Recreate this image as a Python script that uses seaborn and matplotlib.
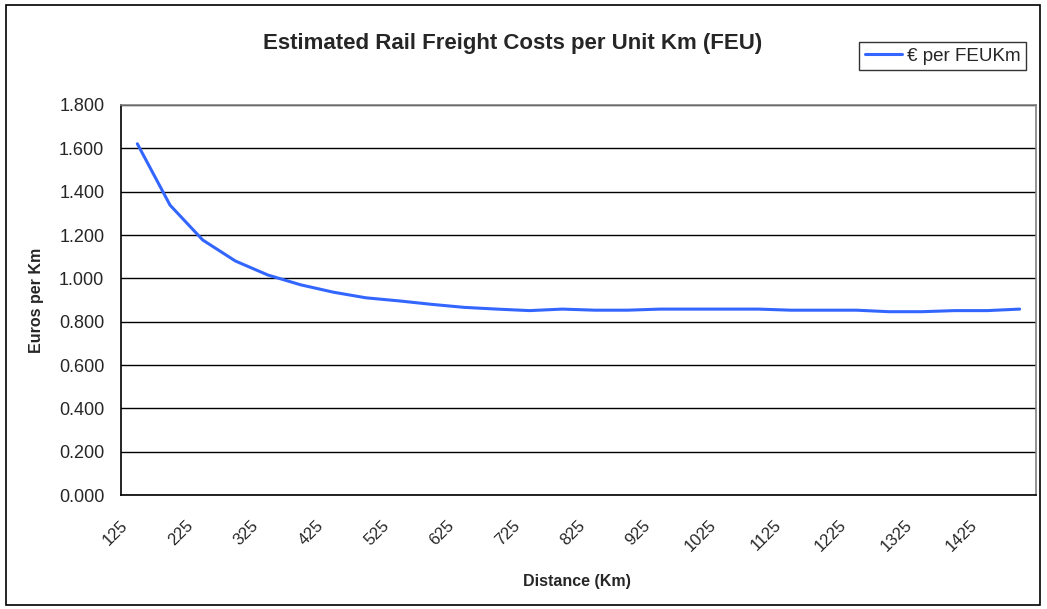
import matplotlib
matplotlib.use('Agg')
import matplotlib.pyplot as plt
import matplotlib.transforms as mtransforms
from matplotlib.patches import Rectangle
import seaborn as sns
import pandas as pd

# distance categories (km) and cost per FEU-km (euros)
distance = [125, 175, 225, 275, 325, 375, 425, 475, 525, 575,
            625, 675, 725, 775, 825, 875, 925, 975, 1025, 1075,
            1125, 1175, 1225, 1275, 1325, 1375, 1425, 1475]
cost = [1.621, 1.338, 1.177, 1.080, 1.015, 0.970, 0.936, 0.910, 0.896, 0.880,
        0.866, 0.858, 0.851, 0.858, 0.853, 0.853, 0.858, 0.858, 0.858, 0.858,
        0.853, 0.853, 0.853, 0.846, 0.846, 0.851, 0.851, 0.858]
label_ticks = [125, 225, 325, 425, 525, 625, 725, 825, 925, 1025, 1125, 1225, 1325, 1425]
y_ticks = [0.0, 0.2, 0.4, 0.6, 0.8, 1.0, 1.2, 1.4, 1.6, 1.8]
series_name = '€ per FEUKm'

df = pd.DataFrame({'Distance': distance, 'Cost': cost})

sns.set_style('white')
plt.rcParams['font.family'] = ['Liberation Sans', 'DejaVu Sans']

fig = plt.figure(figsize=(10.47, 6.09), dpi=100)
ax = fig.add_axes([121 / 1047, 1 - 495 / 609, (1036 - 121) / 1047, (495 - 105) / 609])

sns.lineplot(data=df, x='Distance', y='Cost', ax=ax, color='#3366FF',
             linewidth=2.2, label=series_name)

# category axis: boundaries every 50 km
ax.set_xlim(100, 1500)
ax.set_ylim(0, 1.8)
ax.set_xticks(list(range(100, 1501, 50)))
ax.set_xticklabels([])
ax.tick_params(axis='x', which='major', direction='out', length=5, width=1, color='black')
ax.set_xticks(label_ticks, minor=True)
ax.set_xticklabels([str(v) for v in label_ticks], minor=True, rotation=45,
                   ha='right', va='center', rotation_mode='anchor', fontsize=12)
ax.tick_params(axis='x', which='minor', length=0, pad=20)
offset = mtransforms.ScaledTranslation(-12 / 100, 0, fig.dpi_scale_trans)
for lbl in ax.xaxis.get_minorticklabels():
    lbl.set_transform(lbl.get_transform() + offset)

ax.set_yticks(y_ticks)
ax.set_yticklabels([f'{v:.3f}' for v in y_ticks], fontsize=13)
ax.tick_params(axis='y', direction='out', length=5, width=1, color='black', pad=7)
ax.yaxis.grid(True, color='black', linewidth=1)
ax.xaxis.grid(False)

for side in ['left', 'bottom']:
    ax.spines[side].set_color('black')
    ax.spines[side].set_linewidth(1.2)
for side in ['top', 'right']:
    ax.spines[side].set_visible(True)
    ax.spines[side].set_color('#808080')
    ax.spines[side].set_linewidth(1.2)

ax.set_xlabel('Distance (Km)', fontsize=11.5, fontweight='bold')
ax.set_ylabel('Euros per Km', fontsize=11.5, fontweight='bold')
ax.xaxis.set_label_coords((577 - 121) / (1036 - 121), -(574 - 495) / (495 - 105))
ax.yaxis.set_label_coords(-(121 - 44) / (1036 - 121), (495 - 300) / (495 - 105))

fig.text(513 / 1047, 1 - 43 / 609, 'Estimated Rail Freight Costs per Unit Km (FEU)',
         ha='center', va='center', fontsize=16, fontweight='bold')

leg = ax.legend(loc='upper left', bbox_to_anchor=(859 / 1047, 1 - 42 / 609),
                bbox_transform=fig.transFigure, frameon=True, fancybox=False,
                fontsize=13.5, handlelength=2.0, handletextpad=0.25,
                borderpad=0.3, borderaxespad=0)
leg.get_frame().set_edgecolor('black')
leg.get_frame().set_linewidth(1)

# outer chart border
fig.patches.append(Rectangle((6 / 1047, 4 / 609), 1034 / 1047, 600 / 609,
                             transform=fig.transFigure, fill=False,
                             edgecolor='black', linewidth=1.2))

fig.savefig('out.png', dpi=100)
